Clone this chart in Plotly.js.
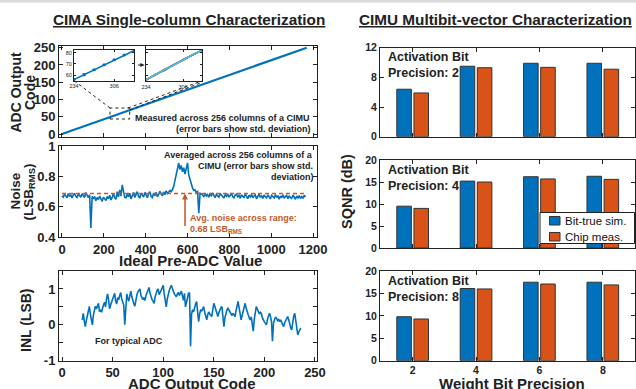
<!DOCTYPE html>
<html>
<head>
<meta charset="utf-8">
<script src="https://cdn.plot.ly/plotly-3.0.1.min.js"></script>
<style>html,body{margin:0;padding:0;background:#fff;}#chart{width:636px;height:389px;}</style>
</head>
<body>
<div id="chart"></div>
<script>
// ---------------- DATA ----------------
// Panel 1: ADC output code vs ideal pre-ADC value
const adcX = [0, 200, 400, 600, 800, 1000, 1170];
const adcY = [0, 43, 85, 128, 171, 214, 250];

// Inset 1 (zoom of transfer curve, mean with std. error bars)
const insetX = [234, 252, 270, 288, 306, 324, 342];
const insetMean = [56.0, 60.4, 64.8, 69.2, 73.6, 78.0, 82.0];
const insetStd = [0.3, 0.9, 0.3, 0.3, 0.3, 0.3, 0.3];

// Inset 2 (several individual columns)
const colBlue   = [56.2, 60.8, 64.6, 69.5, 73.4, 78.3, 81.8];
const colOrange = [55.6, 60.2, 65.3, 69.0, 74.0, 77.6, 82.3];
const colYellow = [56.5, 60.0, 65.0, 69.8, 73.2, 78.5, 81.5];
const colPurple = [55.8, 61.0, 64.2, 69.4, 74.2, 77.8, 82.1];
const colGreen  = [56.0, 60.5, 65.5, 68.8, 73.8, 78.1, 81.7];
const colRed    = [56.3, 60.1, 64.9, 69.6, 73.5, 77.5, 82.2];
const colCyan   = [56.1, 60.6, 64.7, 69.3, 73.7, 78.0, 82.0];

// Panel 2: noise (LSB_RMS) sampled every NOISE_STEP of ideal pre-ADC value
const NOISE_X0 = 0, NOISE_STEP = 6;
const noiseVals = [
 0.672,0.664,0.684,0.675,0.660,0.688,0.668,0.680,0.658,0.679,0.690,0.668,0.662,0.684,0.674,0.664,0.686,
 0.676,0.662,0.694,0.670,0.660,0.680,
 0.462,0.670,
 0.652,0.668,0.640,0.662,0.648,0.670,0.655,0.636,0.664,0.650,0.642,0.668,0.654,0.676,0.645,0.662,0.690,0.660,0.650,0.700,0.665,0.712,0.670,0.745,0.690,0.662,
 0.660,0.684,0.665,0.690,0.652,0.676,0.694,0.662,0.684,0.700,0.668,0.658,0.690,0.672,0.664,0.695,0.678,0.660,0.686,0.700,0.670,0.662,0.690,0.674,0.696,0.666,0.682,0.702,0.686,0.672,0.698,0.680,0.706,0.688,0.698,0.708,0.700,
 0.712,0.735,0.780,0.820,0.850,0.888,0.845,0.872,0.830,0.858,0.815,0.862,0.888,0.810,0.775,0.742,0.725,0.708,0.712,0.695,0.700,0.558,0.690,
 0.686,0.674,0.668,0.690,0.671,0.681,0.664,0.684,0.673,0.692,0.669,0.660,0.682,0.671,0.664,0.688,0.677,0.668,0.658,0.681,
 0.670,0.686,0.664,0.675,0.690,0.668,0.659,0.679,0.684,0.666,0.676,0.656,0.680,0.669,0.662,0.686,0.671,0.654,0.677,0.665,
 0.682,0.660,0.671,0.679,0.652,0.670,0.684,0.662,0.675,0.656,0.678,0.667,0.659,0.680,0.669,0.652,0.676,0.665,0.658,0.681,
 0.662,0.674,0.650,0.672,0.660,0.679,0.657,0.668,0.675,0.653,0.673,0.661,0.656,0.678,0.664,0.650,0.672,0.659,0.674,0.655,
 0.668,0.658,0.676,0.664
];
const avgNoise = 0.688;
const avgNoiseSpan = [0, 1170];

// Panel 3: INL (LSB) for ADC output codes starting at INL_CODE_START
const INL_CODE_START = 20;
const inlVals = [
 0.14,0.32,0.10,-0.05,0.12,0.25,0.40,0.51,0.30,0.15,
 0.00,0.28,0.45,0.52,0.44,0.55,0.60,0.37,0.42,0.35,
 0.48,0.56,0.63,0.50,0.72,0.86,0.70,0.45,0.55,0.62,
 0.70,0.80,0.88,0.66,0.58,0.76,0.70,0.82,0.90,0.72,
 0.62,0.55,0.00,0.60,0.86,0.74,0.66,0.80,0.94,0.78,
 0.64,0.58,0.52,0.70,0.84,0.92,0.95,1.00,0.82,0.74,
 0.70,0.76,0.68,0.82,0.90,0.98,1.04,0.88,0.76,0.70,
 0.66,0.60,0.78,0.92,0.96,1.00,0.84,0.90,0.98,1.05,
 1.10,0.86,0.70,0.50,0.72,0.88,0.96,1.04,1.10,1.02,
 0.92,0.86,0.82,0.78,0.86,0.90,0.82,0.88,0.94,0.80,
 0.68,0.88,0.50,0.62,0.78,0.88,0.90,-0.60,0.30,0.42,
 0.36,0.50,0.58,0.65,0.40,0.09,0.30,0.42,0.38,0.46,
 0.51,0.35,0.22,0.14,0.28,0.36,0.30,0.26,0.23,0.42,
 0.60,0.52,0.40,0.32,0.23,0.34,0.44,0.48,0.51,0.30,
 -0.05,0.20,0.35,0.42,0.46,0.40,0.34,0.30,0.26,0.32,
 0.28,0.23,0.40,0.55,0.65,0.48,0.30,0.14,0.26,0.38,
 0.50,0.60,0.46,0.34,0.28,0.20,0.14,0.22,0.05,-0.18,
 0.15,0.36,0.51,0.44,0.38,0.30,0.35,0.32,0.20,0.12,
 0.08,0.04,0.00,0.15,0.26,0.32,0.24,0.10,-0.46,0.05,
 0.14,0.22,0.18,0.12,0.16,0.09,0.14,0.06,0.00,-0.05,
 0.05,0.12,0.18,0.23,0.15,0.02,-0.08,-0.14,0.10,0.25,
 0.32,0.12,-0.05,-0.28,-0.20,-0.12,-0.09
];

// Right panels: SQNR (dB) vs weight bit precision
const weightBits = [2, 4, 6, 8];
const actBits = [2, 4, 8];
const sqnrSim  = { a2: [6.4, 9.5, 9.9, 9.9],  a4: [9.5, 15.2, 16.2, 16.3], a8: [9.8, 16.1, 17.5, 17.5] };
const sqnrChip = { a2: [5.9, 9.3, 9.35, 9.1], a4: [9.0, 15.0, 15.7, 15.6], a8: [9.3, 16.0, 17.1, 16.9] };
const seriesNames = ['Bit-true sim.', 'Chip meas.'];

// ---------------- STYLE ----------------
const W = 636, H = 389;
const FONT = 'Liberation Sans, Arial, Helvetica, sans-serif';
const BLUE = '#0072BD', ORANGE = '#D95319', BROWN = '#BF5B2A', INK = '#222222';
const px = v => v / W;
const py = v => 1 - v / H;

function axisBase(extra) {
  return Object.assign({
    showline: true, linecolor: INK, linewidth: 1, mirror: 'ticks',
    ticks: 'inside', ticklen: 4, tickcolor: INK, tickwidth: 1,
    showgrid: false, zeroline: false,
    tickfont: { family: FONT, size: 13, color: INK, weight: 'bold' }
  }, extra);
}

const noiseX = noiseVals.map((_, i) => NOISE_X0 + i * NOISE_STEP);
const inlX = inlVals.map((_, i) => INL_CODE_START + i);

const traces = [];
// Panel 1
traces.push({ x: adcX, y: adcY, xaxis: 'x', yaxis: 'y', type: 'scatter', mode: 'lines',
  line: { color: BLUE, width: 2.2 }, showlegend: false, hoverinfo: 'skip' });
// Inset 1
traces.push({ x: insetX, y: insetMean, xaxis: 'x7', yaxis: 'y7', type: 'scatter', mode: 'lines+markers',
  line: { color: BLUE, width: 1.5 }, marker: { color: BLUE, size: 3 },
  error_y: { type: 'data', array: insetStd, color: BLUE, thickness: 1, width: 1.5 },
  showlegend: false, hoverinfo: 'skip' });
// Inset 2
[[colBlue, BLUE], [colOrange, ORANGE], [colYellow, '#EDB120'], [colPurple, '#7E2F8E'],
 [colGreen, '#77AC30'], [colRed, '#A2142F'], [colCyan, '#4DBEEE']].forEach(([ys, c], k) => {
  traces.push({ x: insetX, y: ys, xaxis: 'x8', yaxis: 'y8', type: 'scatter', mode: 'lines',
    line: { color: c, width: k === 6 ? 1.6 : 1.3 }, showlegend: false, hoverinfo: 'skip' });
});
// Panel 2
traces.push({ x: noiseX, y: noiseVals, xaxis: 'x2', yaxis: 'y2', type: 'scatter', mode: 'lines',
  line: { color: BLUE, width: 1.6 }, showlegend: false, hoverinfo: 'skip' });
traces.push({ x: avgNoiseSpan, y: [avgNoise, avgNoise], xaxis: 'x2', yaxis: 'y2', type: 'scatter', mode: 'lines',
  line: { color: ORANGE, width: 1.5, dash: '4px,3px' }, showlegend: false, hoverinfo: 'skip' });
// Panel 3
traces.push({ x: inlX, y: inlVals, xaxis: 'x3', yaxis: 'y3', type: 'scatter', mode: 'lines',
  line: { color: BLUE, width: 1.6 }, showlegend: false, hoverinfo: 'skip' });
// Bars
const keys = ['a2', 'a4', 'a8'];
keys.forEach((k, j) => {
  const ax = String(4 + j);
  traces.push({ x: weightBits, y: sqnrSim[k], type: 'bar', xaxis: 'x' + ax, yaxis: 'y' + ax,
    name: seriesNames[0], showlegend: false, offsetgroup: 'sim',
    marker: { color: BLUE, line: { color: '#333', width: 1 } }, hoverinfo: 'skip' });
  traces.push({ x: weightBits, y: sqnrChip[k], type: 'bar', xaxis: 'x' + ax, yaxis: 'y' + ax,
    name: seriesNames[1], showlegend: false, offsetgroup: 'chip',
    marker: { color: ORANGE, line: { color: '#333', width: 1 } }, hoverinfo: 'skip' });
});

const leftDom = [px(59), px(317)];
const rightDom = [px(380), px(634.5)];
const rTick = { family: FONT, size: 10.5, color: INK, weight: 'bold' };
const insetTick = { family: FONT, size: 5.5, color: INK };

const layout = {
  width: W, height: H, margin: { l: 0, r: 0, t: 0, b: 0 },
  paper_bgcolor: '#fff', plot_bgcolor: 'rgba(0,0,0,0)',
  barmode: 'group', bargap: 0.46, bargroupgap: 0.15,
  showlegend: false,
  xaxis: axisBase({ domain: leftDom, anchor: 'y', range: [-14.3, 1219], tickvals: [0,200,400,600,800,1000,1200], showticklabels: false }),
  yaxis: axisBase({ domain: [py(137), py(46)], anchor: 'x', range: [-8.7, 254.9], tickvals: [0,50,100,150,200,250] }),
  xaxis2: axisBase({ domain: leftDom, anchor: 'y2', range: [-14.3, 1219], tickvals: [0,200,400,600,800,1000,1200] }),
  yaxis2: axisBase({ domain: [py(237.3), py(146)], anchor: 'x2', range: [0.4, 1.0], tickvals: [0.4,0.6,0.8,1] }),
  xaxis3: axisBase({ domain: leftDom, anchor: 'y3', range: [-3, 252], tickvals: [0,50,100,150,200,250] }),
  yaxis3: axisBase({ domain: [py(360.7), py(271)], anchor: 'x3', range: [-1, 1.5],
    tickvals: [-1,-0.5,0,0.5,1], ticktext: ['-1','','0','','1'] }),
  xaxis4: axisBase({ domain: rightDom, anchor: 'y4', range: [0.97, 9], tickvals: weightBits, showticklabels: false, tickfont: rTick }),
  yaxis4: axisBase({ domain: [py(136.7), py(47.7)], anchor: 'x4', range: [0, 12], tickvals: [0,4,8,12], tickfont: rTick }),
  xaxis5: axisBase({ domain: rightDom, anchor: 'y5', range: [0.97, 9], tickvals: weightBits, showticklabels: false, tickfont: rTick }),
  yaxis5: axisBase({ domain: [py(248), py(160)], anchor: 'x5', range: [0, 20], tickvals: [0,5,10,15,20], tickfont: rTick }),
  xaxis6: axisBase({ domain: rightDom, anchor: 'y6', range: [0.97, 9], tickvals: weightBits, tickfont: rTick }),
  yaxis6: axisBase({ domain: [py(360.7), py(271)], anchor: 'x6', range: [0, 20], tickvals: [0,5,10,15,20], tickfont: rTick }),
  xaxis7: axisBase({ domain: [px(74), px(134.3)], anchor: 'y7', range: [234, 342], tickvals: [234, 306], ticklen: 2, tickfont: insetTick }),
  yaxis7: axisBase({ domain: [py(80.7), py(50)], anchor: 'x7', range: [55, 82.4], tickvals: [60, 70, 80], ticklen: 2, tickfont: insetTick }),
  xaxis8: axisBase({ domain: [px(146), px(201.7)], anchor: 'y8', range: [234, 342], tickvals: [234, 306], ticklen: 2, tickfont: insetTick }),
  yaxis8: axisBase({ domain: [py(81), py(50)], anchor: 'x8', range: [55, 82.4], tickvals: [60, 70, 80], ticklen: 2, showticklabels: false }),
  shapes: [],
  annotations: []
};

function ann(text, x, y, size, opts) {
  return Object.assign({ xref: 'paper', yref: 'paper', x: px(x), y: py(y), text: text, showarrow: false,
    xanchor: 'center', yanchor: 'middle', font: { family: FONT, size: size, color: INK } }, opts || {});
}

const A = layout.annotations;
A.push(ann('<b><u>CIMA Single-column Characterization</u></b>', 188.5, 19.5, 15.3));
A.push(ann('<b><u>CIMU Multibit-vector Characterization</u></b>', 495, 19.5, 15.3));
A.push(ann('<b>ADC Output</b>', 16, 92.5, 14, { textangle: -90 }));
A.push(ann('<b>Code</b>', 30.5, 92.5, 14, { textangle: -90 }));
A.push(ann('<b>Noise</b>', 15, 191.5, 13.5, { textangle: -90 }));
A.push(ann('<b>(LSB<sub>RMS</sub>)</b>', 29, 191.5, 13.5, { textangle: -90 }));
A.push(ann('<b>INL (LSB)</b>', 26, 320, 14, { textangle: -90 }));
A.push(ann('<b>SQNR (dB)</b>', 347, 192, 14.5, { textangle: -90 }));
A.push(ann('<b>Ideal Pre-ADC Value</b>', 190.5, 260, 15));
A.push(ann('<b>ADC Output Code</b>', 191.5, 383, 15));
A.push(ann('<b>Weight Bit Precision</b>', 511.5, 383, 15));
A.push(ann('<b>Measured across 256 columns of a CIMU</b>', 312, 118, 9, { xanchor: 'right' }));
A.push(ann('<b>(error bars show std. deviation)</b>', 312.5, 128.5, 9, { xanchor: 'right' }));
A.push(ann('<b>Averaged across 256 columns of a</b>', 315, 155, 9, { xanchor: 'right' }));
A.push(ann('<b>CIMU (error bars show std.</b>', 315, 165.8, 9, { xanchor: 'right' }));
A.push(ann('<b>deviation)</b>', 315.5, 176.7, 9, { xanchor: 'right' }));
A.push(ann('<b>Avg. noise across range:</b>', 188, 218, 9, { xanchor: 'left', font: { family: FONT, size: 9, color: BROWN } }));
A.push(ann('<b>0.68 LSB<sub>RMS</sub></b>', 188, 229.5, 9, { xanchor: 'left', font: { family: FONT, size: 9, color: BROWN } }));
A.push(ann('<b>For typical ADC</b>', 93, 340.5, 9, { xanchor: 'left' }));
actBits.forEach((b, j) => {
  A.push(ann('<b>Activation Bit<br>Precision: ' + b + '</b>', 385.5, [65, 178, 289][j], 12.5, { xanchor: 'left', align: 'left' }));
});
// legend (drawn as a boxed key over the middle panel)
A.push(ann(seriesNames[0], 563, 220.7, 11.5, { xanchor: 'left', font: { family: FONT, size: 11.5, color: '#111' } }));
A.push(ann(seriesNames[1], 563, 236.7, 11.5, { xanchor: 'left', font: { family: FONT, size: 11.5, color: '#111' } }));
// arrow to the average-noise line
A.push({ xref: 'x2', yref: 'y2', x: 588, y: avgNoise, text: '', showarrow: true, ax: 0, ay: 34,
  arrowhead: 2, arrowsize: 0.8, arrowwidth: 1.5, arrowcolor: BROWN });
// arrow between insets
A.push({ xref: 'paper', yref: 'paper', x: px(144.5), y: py(65), text: '', showarrow: true, ax: -8, ay: 0,
  arrowhead: 2, arrowsize: 0.7, arrowwidth: 1.2, arrowcolor: INK });

const S = layout.shapes;
S.push({ type: 'rect', xref: 'paper', yref: 'paper', x0: 0, x1: 1, y0: py(2.5), y1: 1, fillcolor: '#d9d9d9', line: { width: 0 }, layer: 'below' });
S.push({ type: 'rect', xref: 'paper', yref: 'paper', x0: px(110), x1: px(129.7), y0: py(119), y1: py(108), line: { color: INK, width: 1, dash: 'dot' } });
S.push({ type: 'line', xref: 'paper', yref: 'paper', x0: px(110), y0: py(108), x1: px(74), y1: py(80.7), line: { color: INK, width: 1, dash: 'dot' } });
S.push({ type: 'line', xref: 'paper', yref: 'paper', x0: px(128), y0: py(108), x1: px(201.7), y1: py(81), line: { color: INK, width: 1, dash: 'dot' } });
S.push({ type: 'line', xref: 'paper', yref: 'paper', x0: px(129.7), y0: py(110), x1: px(201.7), y1: py(82.5), line: { color: INK, width: 1, dash: 'dot' } });
// legend box and swatches
S.push({ type: 'rect', xref: 'paper', yref: 'paper', x0: px(540), x1: px(634.5), y0: py(243.5), y1: py(212.5), fillcolor: '#fff', line: { color: INK, width: 1 }, layer: 'above' });
S.push({ type: 'rect', xref: 'paper', yref: 'paper', x0: px(549.5), x1: px(560), y0: py(225), y1: py(216.5), fillcolor: BLUE, line: { color: '#333', width: 1 }, layer: 'above' });
S.push({ type: 'rect', xref: 'paper', yref: 'paper', x0: px(549.5), x1: px(560), y0: py(241), y1: py(232.5), fillcolor: ORANGE, line: { color: '#333', width: 1 }, layer: 'above' });

Plotly.newPlot('chart', traces, layout, { displayModeBar: false, staticPlot: true });
</script>
</body>
</html>
